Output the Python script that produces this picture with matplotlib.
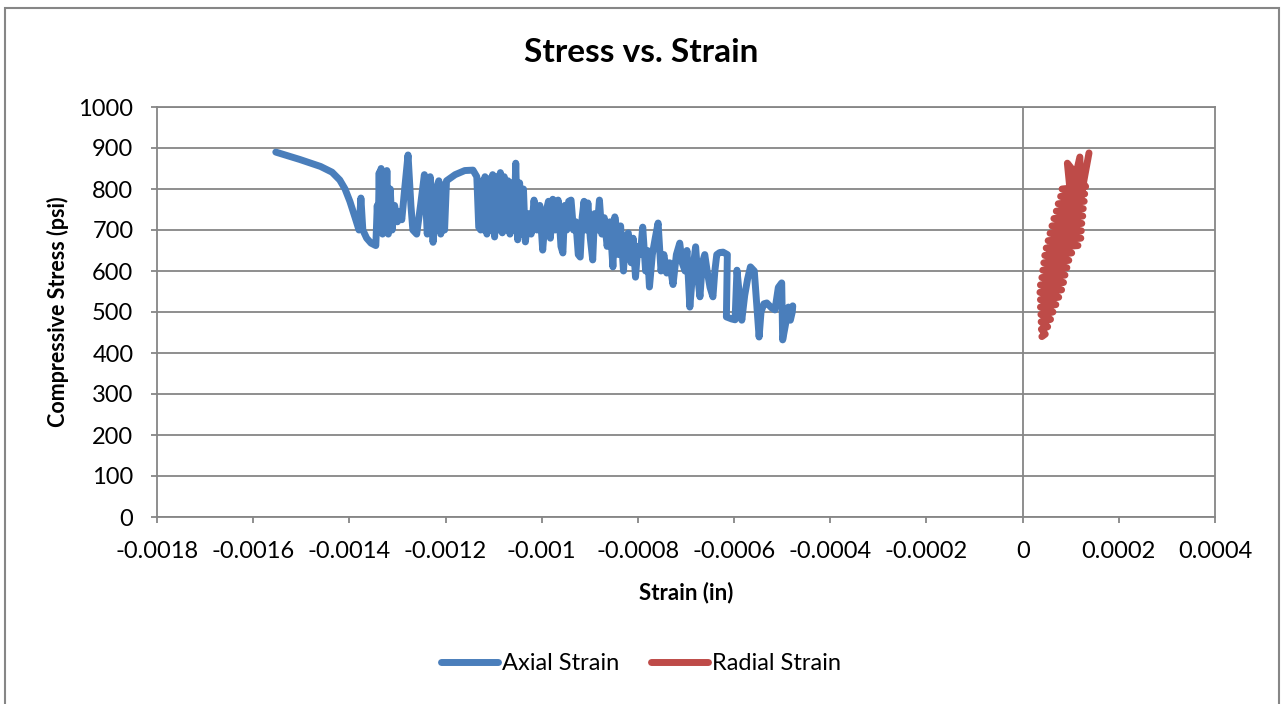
import matplotlib
matplotlib.use("Agg")
import matplotlib.pyplot as plt
from matplotlib.patches import Rectangle
import numpy as np

# strain values read in units of 1e-4 in/in, stress in psi
axial_strain_e4 = [
    -15.53, -15.03, -14.60, -14.36, -14.20, -14.09, -13.99, -13.88, -13.80, -13.76,
    -13.72, -13.64, -13.55, -13.45, -13.42, -13.40, -13.38, -13.36, -13.34, -13.31,
    -13.28, -13.25, -13.22, -13.19, -13.15, -13.11, -13.06, -13.00, -12.95, -12.91,
    -12.85, -12.78, -12.72, -12.68, -12.60, -12.52, -12.44, -12.38, -12.32, -12.26,
    -12.20, -12.14, -12.10, -12.06, -12.02, -11.98, -11.92, -11.80, -11.60, -11.43,
    -11.35, -11.31, -11.27, -11.24, -11.21, -11.18, -11.14, -11.10, -11.06, -11.02,
    -10.98, -10.94, -10.90, -10.86, -10.82, -10.78, -10.74, -10.70, -10.66, -10.62,
    -10.58, -10.54, -10.50, -10.46, -10.42, -10.38, -10.34, -10.28, -10.22, -10.16,
    -10.10, -10.04, -9.98, -9.92, -9.86, -9.82, -9.77, -9.72, -9.66, -9.60,
    -9.56, -9.52, -9.48, -9.44, -9.39, -9.34, -9.29, -9.24, -9.20, -9.16,
    -9.12, -9.08, -9.04, -8.99, -8.94, -8.90, -8.85, -8.80, -8.75, -8.70,
    -8.64, -8.58, -8.52, -8.48, -8.44, -8.40, -8.36, -8.30, -8.26, -8.20,
    -8.14, -8.10, -8.05, -8.00, -7.95, -7.90, -7.84, -7.80, -7.76, -7.70,
    -7.64, -7.58, -7.52, -7.46, -7.40, -7.34, -7.27, -7.20, -7.13, -7.08,
    -7.02, -6.98, -6.92, -6.86, -6.80, -6.75, -6.71, -6.66, -6.61, -6.56,
    -6.50, -6.44, -6.40, -6.36, -6.30, -6.23, -6.14, -6.15, -6.16, -6.05,
    -5.98, -5.94, -5.89, -5.84, -5.78, -5.72, -5.66, -5.58, -5.53, -5.48,
    -5.44, -5.38, -5.32, -5.22, -5.15, -5.08, -5.01, -4.99, -4.93, -4.87,
    -4.83, -4.79, -4.78,
]
axial_stress = [
    890, 872, 855, 841, 822, 800, 770, 730, 700, 778,
    700, 680, 668, 662, 760, 700, 840, 700, 850, 690,
    835, 700, 845, 690, 800, 700, 760, 720, 745, 725,
    800, 883, 760, 700, 690, 760, 835, 690, 830, 670,
    800, 820, 690, 810, 700, 820, 825, 835, 845, 846,
    830, 707, 700, 820, 700, 830, 690, 825, 700, 835,
    683, 830, 700, 840, 693, 830, 700, 820, 690, 815,
    700, 863, 676, 815, 690, 800, 671, 740, 690, 773,
    700, 760, 651, 740, 770, 680, 775, 700, 773, 660,
    644, 760, 700, 770, 773, 700, 720, 640, 634, 730,
    770, 700, 766, 680, 627, 740, 700, 773, 690, 730,
    660, 720, 610, 732, 700, 640, 710, 600, 680, 693,
    620, 680, 585, 660, 640, 707, 600, 650, 561, 640,
    680, 717, 600, 640, 595, 620, 567, 640, 668, 620,
    600, 650, 512, 600, 659, 580, 537, 620, 640, 600,
    560, 537, 600, 640, 645, 646, 640, 560, 488, 483,
    481, 602, 540, 480, 540, 580, 610, 600, 520, 439,
    500, 520, 522, 510, 505, 560, 571, 432, 470, 512,
    480, 500, 515,
]

radial_strain_e4 = [
    0.40, 0.47, 0.39, 0.52, 0.385, 0.58, 0.38, 0.63, 0.37, 0.69,
    0.37, 0.75, 0.36, 0.81, 0.37, 0.85, 0.40, 0.88, 0.42, 0.92,
    0.44, 0.96, 0.46, 1.02, 0.49, 1.15, 0.53, 1.21, 0.57, 1.22,
    0.61, 1.23, 0.65, 1.25, 0.70, 1.26, 0.74, 1.28, 0.79, 1.29,
    0.82, 1.31, 0.93, 1.00, 1.19, 1.21, 1.38,
]
radial_stress = [
    440, 446, 458, 464, 476, 482, 494, 500, 512, 518,
    530, 536, 548, 554, 566, 572, 584, 590, 602, 608,
    620, 626, 638, 644, 656, 662, 674, 680, 692, 698,
    710, 716, 728, 734, 746, 752, 764, 770, 782, 788,
    800, 806, 863, 780, 878, 780, 888,
]

x_ticks_e4 = [-18, -16, -14, -12, -10, -8, -6, -4, -2, 0, 2, 4]
x_tick_labels = ["-0.0018", "-0.0016", "-0.0014", "-0.0012", "-0.001", "-0.0008",
                 "-0.0006", "-0.0004", "-0.0002", "0", "0.0002", "0.0004"]
y_ticks = [0, 100, 200, 300, 400, 500, 600, 700, 800, 900, 1000]

BLUE = "#4A7EBB"
RED = "#BE4B48"
GRID = "#868686"

plt.rcParams["font.family"] = ["Lato", "DejaVu Sans"]
plt.rcParams["axes.unicode_minus"] = False

fig = plt.figure(figsize=(12.82, 7.04), dpi=100)
fig.patch.set_facecolor("white")
fig.patches.append(Rectangle((5 / 1282, -0.05), 1274 / 1282, 1.05 - 8 / 704,
                             transform=fig.transFigure, fill=False,
                             edgecolor=GRID, linewidth=1.5))

ax = fig.add_axes([157 / 1282, 1 - 517 / 704, (1215 - 157) / 1282, (517 - 107) / 704])

ax.plot(np.array(axial_strain_e4) * 1e-4, axial_stress, color=BLUE, linewidth=5,
        solid_capstyle="round", solid_joinstyle="round", label="Axial Strain", zorder=3)
ax.plot(np.array(radial_strain_e4) * 1e-4, radial_stress, color=RED, linewidth=5,
        solid_capstyle="round", solid_joinstyle="round", label="Radial Strain", zorder=3)

ax.set_xlim(-0.0018, 0.0004)
ax.set_ylim(0, 1000)
ax.set_xticks(np.array(x_ticks_e4) * 1e-4)
ax.set_xticklabels(x_tick_labels)
ax.set_yticks(y_ticks)

ax.grid(axis="y", color=GRID, linewidth=1.3)
ax.set_axisbelow(True)
ax.axvline(0, color=GRID, linewidth=1.3, zorder=1)
for s in ax.spines.values():
    s.set_color(GRID)
    s.set_linewidth(1.3)
ax.tick_params(axis="both", colors=GRID, labelcolor="black", labelsize=17, length=4, width=1.3)
ax.tick_params(axis="x", pad=13)
ax.tick_params(axis="y", pad=13)

ax.set_xlabel("Strain (in)", fontsize=16, fontweight="bold")
ax.xaxis.label.set_va("center")
ax.xaxis.set_label_coords(0.5, -(593 - 517) / 410)
ax.set_ylabel("Compressive Stress (psi)", fontsize=15.5, fontweight="bold")
ax.yaxis.label.set_va("center")
ax.yaxis.set_label_coords(-(157 - 58) / 1058, 0.5)

fig.text(0.5, 1 - 53 / 704, "Stress vs. Strain", ha="center", va="center",
         fontsize=24, fontweight="bold")

fig.legend(loc="center", bbox_to_anchor=(0.5, 1 - 664 / 704), ncol=2, frameon=False,
           fontsize=17, handlelength=2.4, handletextpad=0.17, columnspacing=1.35)

fig.savefig("out.png", dpi=100, facecolor="white")
